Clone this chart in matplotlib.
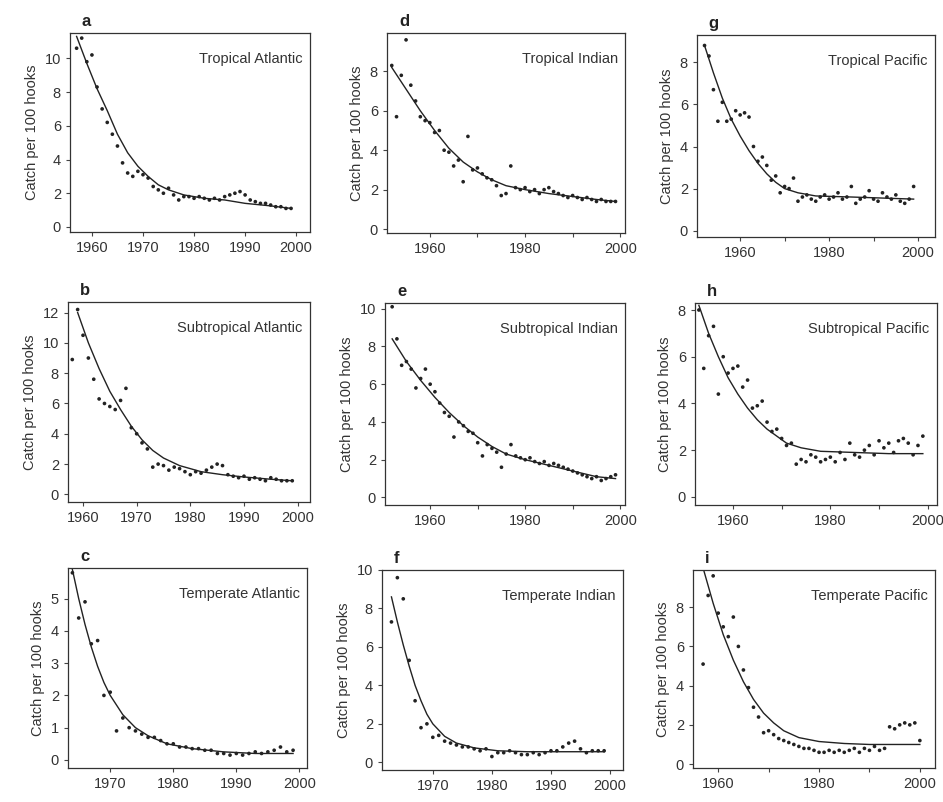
import matplotlib.pyplot as plt
from matplotlib.ticker import MultipleLocator

plt.rcParams["font.family"] = ["Liberation Sans", "DejaVu Sans"]

# a  Tropical Atlantic
a_years = list(range(1957, 2000))
a_cpue = [10.6, 11.2, 9.8, 10.2, 8.3, 7.0, 6.2, 5.5, 4.8, 3.8, 3.2, 3.0, 3.3, 3.1, 2.9,
          2.4, 2.2, 2.0, 2.3, 1.9, 1.6, 1.8, 1.8, 1.7, 1.8, 1.7, 1.6, 1.7, 1.6, 1.8,
          1.9, 2.0, 2.1, 1.9, 1.6, 1.5, 1.4, 1.4, 1.3, 1.2, 1.2, 1.1, 1.1]
a_fit_years = [1957, 1959, 1961, 1963, 1965, 1967, 1969, 1971, 1973, 1975, 1978, 1982, 1986, 1990, 1995, 1999]
a_fit = [11.3, 9.7, 8.2, 6.9, 5.5, 4.4, 3.6, 3.0, 2.5, 2.2, 1.9, 1.7, 1.6, 1.4, 1.25, 1.1]

# b  Subtropical Atlantic
b_years = list(range(1958, 2000))
b_cpue = [8.9, 12.2, 10.5, 9.0, 7.6, 6.3, 6.0, 5.8, 5.6, 6.2, 7.0, 4.4, 4.0, 3.4, 3.0,
          1.8, 2.0, 1.9, 1.6, 1.8, 1.7, 1.5, 1.3, 1.5, 1.4, 1.6, 1.8, 2.0, 1.9, 1.3,
          1.2, 1.1, 1.2, 1.0, 1.1, 1.0, 0.9, 1.1, 1.0, 0.9, 0.9, 0.9]
b_fit_years = [1959, 1961, 1963, 1965, 1967, 1969, 1971, 1973, 1975, 1978, 1982, 1986, 1990, 1995, 1999]
b_fit = [12.0, 10.0, 8.3, 6.8, 5.6, 4.5, 3.6, 2.9, 2.4, 1.9, 1.5, 1.3, 1.15, 1.0, 0.9]

# c  Temperate Atlantic
c_years = list(range(1964, 2000))
c_cpue = [5.8, 4.4, 4.9, 3.6, 3.7, 2.0, 2.1, 0.9, 1.3, 1.0, 0.9, 0.8, 0.7, 0.7, 0.6,
          0.5, 0.5, 0.4, 0.4, 0.35, 0.35, 0.3, 0.3, 0.2, 0.2, 0.15, 0.2, 0.15, 0.2,
          0.25, 0.2, 0.25, 0.3, 0.4, 0.25, 0.3]
c_fit_years = [1964, 1965, 1966, 1967, 1968, 1969, 1970, 1972, 1974, 1976, 1979, 1983, 1988, 1993, 1999]
c_fit = [5.9, 5.0, 4.2, 3.5, 2.9, 2.4, 2.0, 1.4, 1.0, 0.75, 0.5, 0.35, 0.25, 0.2, 0.2]

# d  Tropical Indian
d_years = list(range(1952, 2000))
d_cpue = [8.3, 5.7, 7.8, 9.6, 7.3, 6.5, 5.7, 5.5, 5.4, 4.9, 5.0, 4.0, 3.9, 3.2, 3.5,
          2.4, 4.7, 3.0, 3.1, 2.8, 2.6, 2.5, 2.2, 1.7, 1.8, 3.2, 2.1, 2.0, 2.1, 1.9,
          2.0, 1.8, 2.0, 2.1, 1.9, 1.8, 1.7, 1.6, 1.7, 1.6, 1.5, 1.6, 1.5, 1.4, 1.5,
          1.4, 1.4, 1.4]
d_fit_years = [1952, 1955, 1958, 1961, 1964, 1967, 1970, 1973, 1976, 1980, 1985, 1990, 1995, 1999]
d_fit = [8.2, 7.1, 6.0, 5.0, 4.1, 3.4, 2.9, 2.5, 2.2, 2.0, 1.8, 1.65, 1.5, 1.4]

# e  Subtropical Indian
e_years = list(range(1952, 2000))
e_cpue = [10.1, 8.4, 7.0, 7.2, 6.8, 5.8, 6.3, 6.8, 6.0, 5.6, 5.0, 4.5, 4.3, 3.2, 4.0,
          3.8, 3.5, 3.4, 2.9, 2.2, 2.8, 2.6, 2.4, 1.6, 2.3, 2.8, 2.2, 2.1, 2.0, 2.1,
          1.9, 1.8, 1.9, 1.7, 1.8, 1.7, 1.6, 1.5, 1.4, 1.3, 1.2, 1.1, 1.0, 1.1, 0.9,
          1.0, 1.1, 1.2]
e_fit_years = [1952, 1955, 1958, 1961, 1964, 1967, 1970, 1973, 1976, 1980, 1985, 1990, 1995, 1999]
e_fit = [8.4, 7.2, 6.2, 5.3, 4.5, 3.8, 3.2, 2.7, 2.3, 2.0, 1.7, 1.4, 1.1, 1.0]

# f  Temperate Indian
f_years = list(range(1963, 2000))
f_cpue = [7.3, 9.6, 8.5, 5.3, 3.2, 1.8, 2.0, 1.3, 1.4, 1.1, 1.0, 0.9, 0.8, 0.8, 0.7,
          0.6, 0.7, 0.3, 0.5, 0.5, 0.6, 0.5, 0.4, 0.4, 0.5, 0.4, 0.5, 0.6, 0.6, 0.8,
          1.0, 1.1, 0.7, 0.5, 0.6, 0.6, 0.6]
f_fit_years = [1963, 1964, 1965, 1966, 1967, 1968, 1969, 1970, 1972, 1974, 1977, 1981, 1986, 1992, 1999]
f_fit = [8.6, 7.3, 6.1, 5.0, 4.0, 3.2, 2.5, 2.0, 1.35, 1.0, 0.75, 0.6, 0.55, 0.55, 0.55]

# g  Tropical Pacific
g_years = list(range(1952, 2000))
g_cpue = [8.8, 8.3, 6.7, 5.2, 6.1, 5.2, 5.3, 5.7, 5.5, 5.6, 5.4, 4.0, 3.3, 3.5, 3.1,
          2.4, 2.6, 1.8, 2.1, 2.0, 2.5, 1.4, 1.6, 1.7, 1.5, 1.4, 1.6, 1.7, 1.5, 1.6,
          1.8, 1.5, 1.6, 2.1, 1.3, 1.5, 1.6, 1.9, 1.5, 1.4, 1.8, 1.6, 1.5, 1.7, 1.4,
          1.3, 1.5, 2.1]
g_fit_years = [1952, 1954, 1956, 1958, 1960, 1962, 1964, 1966, 1968, 1970, 1973, 1977, 1985, 1992, 1999]
g_fit = [8.8, 7.5, 6.3, 5.3, 4.5, 3.8, 3.2, 2.7, 2.3, 2.0, 1.8, 1.65, 1.6, 1.55, 1.5]

# h  Subtropical Pacific
h_years = list(range(1953, 2000))
h_cpue = [8.0, 5.5, 6.9, 7.3, 4.4, 6.0, 5.3, 5.5, 5.6, 4.7, 5.0, 3.8, 3.9, 4.1, 3.2,
          2.8, 2.9, 2.5, 2.2, 2.3, 1.4, 1.6, 1.5, 1.8, 1.7, 1.5, 1.6, 1.7, 1.5, 1.9,
          1.6, 2.3, 1.8, 1.7, 2.0, 2.2, 1.8, 2.4, 2.1, 2.3, 1.9, 2.4, 2.5, 2.3, 1.8,
          2.2, 2.6]
h_fit_years = [1953, 1955, 1957, 1959, 1961, 1963, 1965, 1967, 1969, 1971, 1974, 1978, 1985, 1992, 1999]
h_fit = [8.2, 7.0, 6.0, 5.1, 4.4, 3.8, 3.3, 2.9, 2.6, 2.3, 2.1, 1.95, 1.9, 1.85, 1.85]

# i  Temperate Pacific
i_years = list(range(1957, 2001))
i_cpue = [5.1, 8.6, 9.6, 7.7, 7.0, 6.5, 7.5, 6.0, 4.8, 3.9, 2.9, 2.4, 1.6, 1.7, 1.5,
          1.3, 1.2, 1.1, 1.0, 0.9, 0.8, 0.8, 0.7, 0.6, 0.6, 0.7, 0.6, 0.7, 0.6, 0.7,
          0.8, 0.6, 0.8, 0.7, 0.9, 0.7, 0.8, 1.9, 1.8, 2.0, 2.1, 2.0, 2.1, 1.2]
i_fit_years = [1957, 1959, 1961, 1963, 1965, 1967, 1969, 1971, 1973, 1976, 1980, 1985, 1990, 1995, 2000]
i_fit = [10.0, 8.2, 6.6, 5.3, 4.2, 3.3, 2.6, 2.1, 1.7, 1.35, 1.15, 1.05, 1.0, 1.0, 1.0]

panels = [
    ("a", "Tropical Atlantic", a_years, a_cpue, a_fit_years, a_fit),
    ("b", "Subtropical Atlantic", b_years, b_cpue, b_fit_years, b_fit),
    ("c", "Temperate Atlantic", c_years, c_cpue, c_fit_years, c_fit),
    ("d", "Tropical Indian", d_years, d_cpue, d_fit_years, d_fit),
    ("e", "Subtropical Indian", e_years, e_cpue, e_fit_years, e_fit),
    ("f", "Temperate Indian", f_years, f_cpue, f_fit_years, f_fit),
    ("g", "Tropical Pacific", g_years, g_cpue, g_fit_years, g_fit),
    ("h", "Subtropical Pacific", h_years, h_cpue, h_fit_years, h_fit),
    ("i", "Temperate Pacific", i_years, i_cpue, i_fit_years, i_fit),
]

# axes rect, xlim, ylim, x major step, y major step
layout = {
    "a": ([0.0742, 0.7107, 0.2545, 0.2481], (1955.7, 2002.7), (-0.3, 11.5), 10, 2),
    "b": ([0.0721, 0.3741, 0.2566, 0.2494], (1957.2, 2002.3), (-0.5, 12.7), 10, 2),
    "c": ([0.0721, 0.0424, 0.2534, 0.2494], (1963.3, 2001.2), (-0.25, 5.95), 10, 1),
    "d": ([0.4104, 0.7095, 0.2524, 0.2494], (1951.0, 2001.0), (-0.2, 9.95), 20, 2),
    "e": ([0.4083, 0.3703, 0.2545, 0.2519], (1950.5, 2001.0), (-0.4, 10.3), 20, 2),
    "f": ([0.4051, 0.0399, 0.2556, 0.2494], (1961.4, 2002.2), (-0.4, 10.0), 10, 2),
    "g": ([0.7391, 0.7045, 0.2524, 0.2519], (1950.3, 2003.8), (-0.3, 9.3), 20, 2),
    "h": ([0.7370, 0.3703, 0.2566, 0.2519], (1952.2, 2001.9), (-0.35, 8.3), 20, 2),
    "i": ([0.7349, 0.0424, 0.2566, 0.2469], (1955.0, 2003.0), (-0.2, 9.9), 20, 2),
}

text_col = "#333333"
fig = plt.figure(figsize=(9.43, 8.02), dpi=100)

for letter, name, yrs, cpue, fyrs, fit in panels:
    rect, xlim, ylim, xstep, ystep = layout[letter]
    ax = fig.add_axes(rect)
    ax.plot(fyrs, fit, color="#222222", lw=1.0, zorder=2)
    ax.scatter(yrs, cpue, s=7, color="#222222", edgecolors="none", zorder=3)
    ax.set_xlim(*xlim)
    ax.set_ylim(*ylim)
    ax.xaxis.set_major_locator(MultipleLocator(xstep))
    ax.yaxis.set_major_locator(MultipleLocator(ystep))
    if xstep == 20:
        ax.xaxis.set_minor_locator(MultipleLocator(10))
    ax.tick_params(which="both", direction="out", length=3, width=0.8,
                   labelsize=10.5, colors="#444444", labelcolor=text_col)
    ax.set_ylabel("Catch per 100 hooks", fontsize=10.5, color=text_col, labelpad=4)
    for sp in ax.spines.values():
        sp.set_linewidth(0.9)
        sp.set_color("#333333")
    ax.text(0.97, 0.87, name, transform=ax.transAxes, ha="right", va="center",
            fontsize=10.5, color=text_col)
    ax.text(0.05, 1.02, letter, transform=ax.transAxes, ha="left", va="bottom",
            fontsize=12, fontweight="bold", color="#222222")

fig.savefig("out.png", dpi=100)
